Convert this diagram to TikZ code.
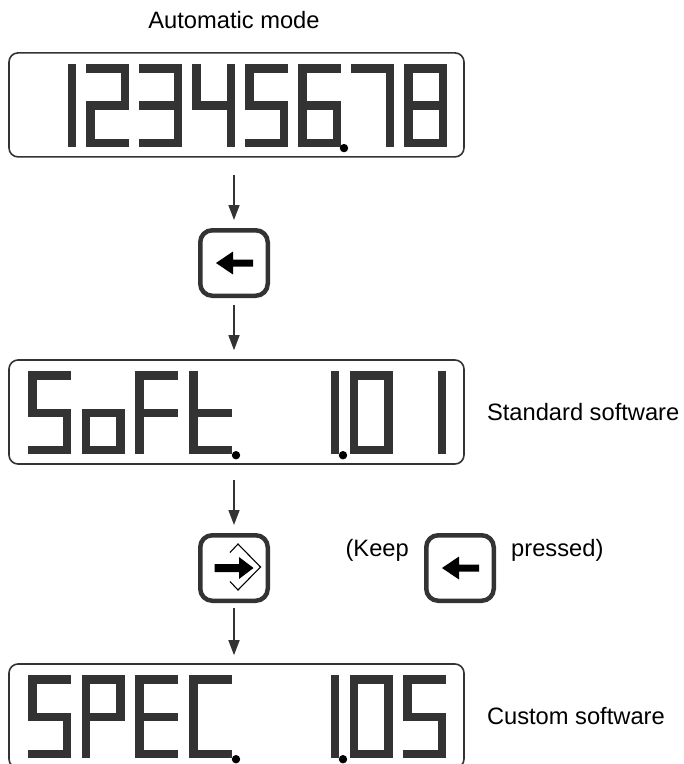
\documentclass[tikz,border=0pt]{standalone}
\usepackage{fontspec}
\setmainfont{Liberation Sans}
\usetikzlibrary{positioning,arrows.meta}
\definecolor{lcdgray}{HTML}{333333}
\tikzset{
  lcd/.style={draw=lcdgray, line width=1.6pt, rounded corners=9pt, minimum width=455pt, minimum height=104pt, inner sep=0pt},
  button/.style={draw=lcdgray, line width=4.5pt, rounded corners=12pt, minimum width=67.5pt, minimum height=65.5pt, inner sep=0pt},
  flow/.style={draw=lcdgray, line width=1.5pt, -{Triangle[length=15pt,width=11pt]}},
  note/.style={font=\fontsize{23.7pt}{28pt}\selectfont, inner sep=0pt},
  % segments of one digit, 43 wide and 83 high
  seg/.style={seg@#1},
  seg@a/.style={insert path={(0,0) rectangle (43,8.5)}},
  seg@b/.style={insert path={(34.5,0) rectangle (43,41.5)}},
  seg@c/.style={insert path={(34.5,41.5) rectangle (43,83)}},
  seg@d/.style={insert path={(0,74.5) rectangle (43,83)}},
  seg@e/.style={insert path={(0,41.5) rectangle (8.5,83)}},
  seg@f/.style={insert path={(0,0) rectangle (8.5,41.5)}},
  seg@g/.style={insert path={(0,37.3) rectangle (43,45.8)}},
  back arrow/.style={insert path={(-18,0) -- (-1,-11.5) -- (-1,-3.5) -- (19,-3.5) -- (19,3.5) -- (-1,3.5) -- (-1,11.5) -- cycle}},
  enter arrow/.style={insert path={(19.5,0) -- (5,-11) -- (5,-4) -- (-19.5,-4) -- (-19.5,4) -- (5,4) -- (5,11) -- cycle}},
}

\begin{document}
\begin{tikzpicture}[x=1pt, y=-1pt]
\useasboundingbox (0,0) rectangle (684,764);

%displays and keys
\node[lcd] (auto) at (236.5,104.9) {};
\node[lcd] (soft) at (236.5,412) {};
\node[lcd] (spec) at (236.5,716) {};
\node[button] (back)  at (234,263) {};
\node[button] (enter) at (234,568) {};
\node[button] (hold)  at (460,568) {};

%texts
\node[note, anchor=base] (title) at (234,28) {Automatic mode};
\node[note, right=22pt of soft] (std) {Standard software};
\node[note, right=22pt of spec] (cust) {Custom software};
\node[note, anchor=base east] (keep) at ([xshift=-15pt,yshift=-23pt]hold.north west) {(Keep};
\node[note, anchor=base west] (pressed) at ([xshift=15pt,yshift=-23pt]hold.north east) {pressed)};

%arrows
\draw[flow, shorten <=17pt, shorten >=8pt] (auto.south -| back) -- (back);
\draw[flow, shorten <=7pt, shorten >=9pt] (back) -- (back |- soft.north);
\draw[flow, shorten <=15pt, shorten >=8pt] (soft.south -| enter) -- (enter);
\draw[flow, shorten <=5pt, shorten >=8pt] (enter) -- (enter |- spec.north);

%key symbols
\fill[shift={(back.center)}, back arrow];
\fill[shift={(hold.center)}, back arrow];
\fill[shift={(enter.center)}, enter arrow];
\draw[line width=1.1pt, shift={(enter.center)}] (-4,-15.5) -- (4,-24) -- (26.5,-1) -- (4,22) -- (-4,13.5);

%digits: 12345.678
\begin{scope}[shift={(auto.north west)}]
\foreach \i/\segs in {1/{b,c},2/{a,b,g,e,d},3/{a,b,g,c,d},4/{f,g,b,c},5/{a,f,g,c,d},6/{a,f,g,e,d,c},7/{a,b,c},8/{a,b,c,d,e,f,g}}{
  \foreach \s in \segs
    \fill[lcdgray, shift={({25+53*(\i-1)},12)}, seg/.expanded=\s];
}
\fill (335.8,96) circle (4.2pt);
\end{scope}

%digits: SoFt. 1.01
\begin{scope}[shift={(soft.north west)}]
\foreach \i/\segs in {1/{a,f,g,c,d},2/{g,c,d,e},3/{a,f,g,e},4/{f,e,g,d},6/{b,c},7/{a,b,c,d,e,f},8/{b,c}}{
  \foreach \s in \segs
    \fill[lcdgray, shift={({20+53.6*(\i-1)},12)}, seg/.expanded=\s];
}
\fill (227.8,96) circle (4.2pt);
\fill (334.8,96) circle (4.2pt);
\end{scope}

%digits: SPEC. 1.05
\begin{scope}[shift={(spec.north west)}]
\foreach \i/\segs in {1/{a,f,g,c,d},2/{a,b,f,g,e},3/{a,f,g,e,d},4/{a,f,e,d},6/{b,c},7/{a,b,c,d,e,f},8/{a,f,g,c,d}}{
  \foreach \s in \segs
    \fill[lcdgray, shift={({20+53.6*(\i-1)},12)}, seg/.expanded=\s];
}
\fill (227.8,96) circle (4.2pt);
\fill (334.8,96) circle (4.2pt);
\end{scope}
\end{tikzpicture}
\end{document}
